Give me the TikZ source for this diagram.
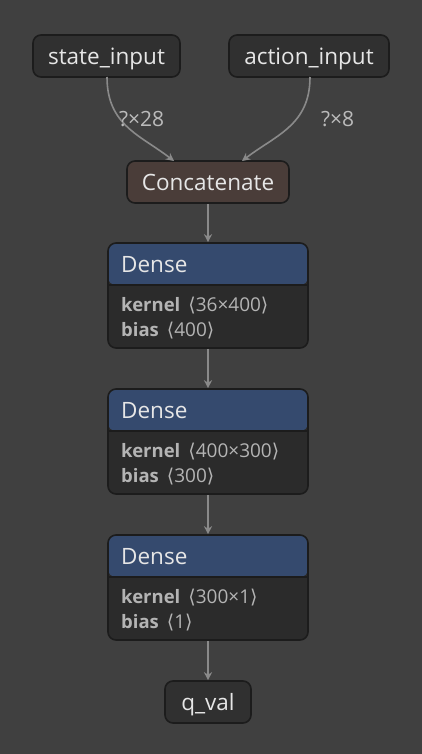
\documentclass[tikz,border=0pt]{standalone}
\usepackage{fontspec}
\setmainfont{Open Sans}
\newfontfamily\brk{DejaVu Sans}
\usetikzlibrary{arrows.meta}
\definecolor{bg}{HTML}{404040}
\definecolor{nodefill}{HTML}{303030}
\definecolor{nodeborder}{HTML}{1C1C1C}
\definecolor{catfill}{HTML}{4A3D39}
\definecolor{hdrfill}{HTML}{354A6E}
\definecolor{bodyfill}{HTML}{2B2B2B}
\definecolor{titletext}{HTML}{E6E6E6}
\definecolor{bodytext}{HTML}{B4B4B4}
\definecolor{edgecol}{HTML}{8A8A8A}
\newcommand{\lb}{{\brk\char"27E8}}
\newcommand{\rb}{{\brk\char"27E9}}
\newcommand{\attr}[2]{\textbf{#1}\hspace{8pt}{\fontsize{19}{22}\selectfont\lb#2\rb}}
\tikzset{
  plainbox/.style={draw=nodeborder, line width=1.6pt, rounded corners=8pt, fill=nodefill,
    minimum height=42pt, inner sep=0pt, text height=17pt, text depth=0pt,
    text=titletext, font=\fontsize{22.5}{26}\selectfont},
  catbox/.style={plainbox, fill=catfill},
  densebox/.style={draw=nodeborder, line width=1.6pt, rounded corners=8pt, fill=bodyfill,
    minimum width=200pt, minimum height=105pt, inner sep=0pt,
    path picture={\fill[hdrfill] (path picture bounding box.north west) rectangle ([yshift=-42pt]path picture bounding box.north east);
      \draw[nodeborder, line width=1.6pt] ([yshift=-42pt]path picture bounding box.north west) -- ([yshift=-42pt]path picture bounding box.north east);}},
  hdrtext/.style={anchor=base west, inner sep=0pt, text=titletext, font=\fontsize{22.5}{26}\selectfont},
  attrtext/.style={anchor=base west, inner sep=0pt, text=bodytext, font=\fontsize{18.5}{22}\selectfont},
  edge/.style={draw=edgecol, line width=1.6pt, -{Stealth[length=8pt,width=8pt,inset=2.5pt]}},
  elabel/.style={inner sep=0pt, anchor=base west, text=bodytext!90, font=\fontsize{21}{24}\selectfont}
}
\begin{document}
\begin{tikzpicture}[x=1pt,y=-1pt]
\fill[bg] (0,0) rectangle (422,754);
\useasboundingbox (0,0) rectangle (422,754);
% input nodes
\node[plainbox, minimum width=147pt] (si) at (106.5,56) {state\_input};
\node[plainbox, minimum width=160pt] (ai) at (309,56) {action\_input};
\node[catbox, minimum width=162pt] (cat) at (208,182) {Concatenate};
% dense blocks
\node[densebox] (d1) at (208,295.5) {};
\node[densebox] (d2) at (208,441.5) {};
\node[densebox] (d3) at (208,587.5) {};
\node[plainbox, minimum width=86pt] (q) at (208,702) {q\_val};
% dense texts
\node[hdrtext] (d1h) at (121,272.5) {Dense};
\node[attrtext] (d1k) at (121,311) {\attr{kernel}{36×400}};
\node[attrtext] (d1b) at (121,336.5) {\attr{bias}{400}};
\node[hdrtext] (d2h) at (121,418.5) {Dense};
\node[attrtext] (d2k) at (121,457) {\attr{kernel}{400×300}};
\node[attrtext] (d2b) at (121,482.5) {\attr{bias}{300}};
\node[hdrtext] (d3h) at (121,564.5) {Dense};
\node[attrtext] (d3k) at (121,603) {\attr{kernel}{300×1}};
\node[attrtext] (d3b) at (121,628.5) {\attr{bias}{1}};
% edges
\coordinate (siout) at (107,77);
\coordinate (aiout) at (310,77);
\coordinate (catin1) at (174,161);
\coordinate (catin2) at (242,161);
\draw[edge] (siout) .. controls (107,125) and (140,135) .. (catin1);
\draw[edge] (aiout) .. controls (310,125) and (276,135) .. (catin2);
\node[elabel] (l1) at (119,127) {?×28};
\node[elabel] (l2) at (321,127) {?×8};
\draw[edge] (cat.south) -- (d1.north);
\draw[edge] (d1.south) -- (d2.north);
\draw[edge] (d2.south) -- (d3.north);
\draw[edge] (d3.south) -- (q.north);
\end{tikzpicture}
\end{document}
